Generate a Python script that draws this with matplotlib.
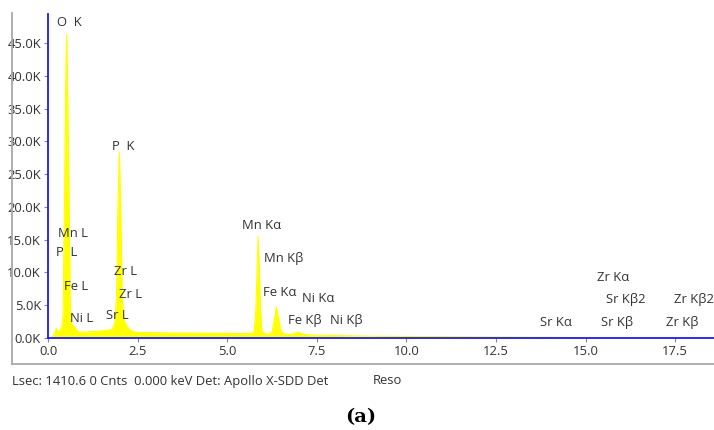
import matplotlib
matplotlib.use("Agg")
import matplotlib.pyplot as plt
from matplotlib.lines import Line2D

plt.rcParams['font.family'] = ['Open Sans', 'DejaVu Sans']

# spectrum (keV, counts)
energy = [0.0, 0.12, 0.18, 0.23, 0.28, 0.33, 0.38, 0.42, 0.46, 0.49, 0.52, 0.55, 0.585, 0.62,
          0.66, 0.72, 0.78, 0.85, 1.0, 1.3, 1.6, 1.78, 1.86, 1.91, 1.95, 1.99, 2.03, 2.07, 2.12,
          2.18, 2.25, 2.35, 2.5, 3.0, 4.0, 5.0, 5.5, 5.68, 5.75, 5.8, 5.83, 5.86, 5.89, 5.93, 5.97,
          6.05, 6.15, 6.25, 6.31, 6.37, 6.43, 6.5, 6.6, 6.75, 6.9, 6.97, 7.05, 7.2, 7.5, 8.0, 8.5,
          9.0, 10.0, 11.0, 12.0, 13.0, 14.0, 14.9, 15.3, 18.6]
counts = [0, 150, 700, 1500, 900, 1200, 1600, 3500, 21000, 38000, 46300, 36000, 21000, 5000,
          2200, 1800, 1300, 950, 900, 1000, 1150, 1300, 2200, 6000, 20000, 28400, 19000, 6000, 2600,
          2000, 1400, 1000, 850, 800, 750, 700, 650, 750, 1000, 4500, 10000, 15500, 11000, 4000, 1000,
          650, 600, 900, 2800, 4750, 3000, 1000, 600, 550, 700, 900, 700, 500, 450, 380, 330,
          280, 230, 200, 170, 140, 100, 50, 0, 0]

y_ticks = [0, 5000, 10000, 15000, 20000, 25000, 30000, 35000, 40000, 45000]
y_tick_labels = ["0.0K", "5.0K", "10.0K", "15.0K", "20.0K", "25.0K", "30.0K", "35.0K", "40.0K", "45.0K"]
x_ticks = [0.0, 2.5, 5.0, 7.5, 10.0, 12.5, 15.0, 17.5]
x_tick_labels = ["0.0", "2.5", "5.0", "7.5", "10.0", "12.5", "15.0", "17.5"]

# peak labels: text, left x (keV), y (counts)
peak_names = ["O  K", "P  K", "Mn L", "P  L", "Fe L", "Ni L", "Zr L", "Zr L", "Sr L",
              "Mn Kα", "Mn Kβ", "Fe Kα", "Ni Kα", "Fe Kβ", "Ni Kβ",
              "Sr Kα", "Sr Kβ", "Sr Kβ2", "Zr Kα", "Zr Kβ2", "Zr Kβ"]
peak_x = [0.25, 1.78, 0.28, 0.22, 0.45, 0.61, 1.84, 1.98, 1.62,
          5.40, 6.02, 5.99, 7.08, 6.69, 7.88,
          13.73, 15.43, 15.57, 15.32, 17.47, 17.24]
peak_y = [48200, 29300, 15900, 13000, 7800, 2900, 10100, 6600, 3500,
          17100, 12200, 6900, 6000, 2700, 2700,
          2300, 2300, 5800, 9300, 5800, 2300]

fig = plt.figure(figsize=(7.14, 4.30), dpi=100)
ax = fig.add_axes([48 / 714, 1 - 338 / 430, 1 - 48 / 714, (338 - 14) / 430])

ax.fill_between(energy, counts, 0, color="#ffff00", lw=0)
ax.plot(energy, counts, color="#ffff00", lw=0.8)

ax.set_xlim(0, 18.58)
ax.set_ylim(0, 49450)
ax.set_xticks(x_ticks)
ax.set_xticklabels(x_tick_labels)
ax.set_yticks(y_ticks)
ax.set_yticklabels(y_tick_labels)
ax.tick_params(length=3, width=0.8, color="#888888", labelcolor="#333333", labelsize=9.4, pad=2)

for s in ["top", "right"]:
    ax.spines[s].set_visible(False)
for s in ["left", "bottom"]:
    ax.spines[s].set_color("#1a1aff")
    ax.spines[s].set_linewidth(1.3)

for name, px, py in zip(peak_names, peak_x, peak_y):
    ax.text(px, py, name, fontsize=9.4, color="#333333", ha="left", va="center")

# outer gray frame of the screenshot
fig.add_artist(Line2D([12 / 714, 12 / 714], [1 - 13 / 430, 1 - 364 / 430], color="#a8a8a8", lw=1.3))
fig.add_artist(Line2D([12 / 714, 1.0], [1 - 364 / 430, 1 - 364 / 430], color="#a8a8a8", lw=1.3))

fig.text(12 / 714, 1 - 381 / 430, "Lsec: 1410.6 0 Cnts  0.000 keV Det: Apollo X-SDD Det",
         fontsize=9.4, color="#333333", ha="left", va="center")
fig.text(373 / 714, 1 - 381 / 430, "Reso", fontsize=9.4, color="#333333", ha="left", va="center")
fig.text(361 / 714, 1 - 417 / 430, "(a)", fontsize=14, fontweight="bold",
         family="DejaVu Serif", ha="center", va="center")

fig.savefig("out.png", dpi=100)
